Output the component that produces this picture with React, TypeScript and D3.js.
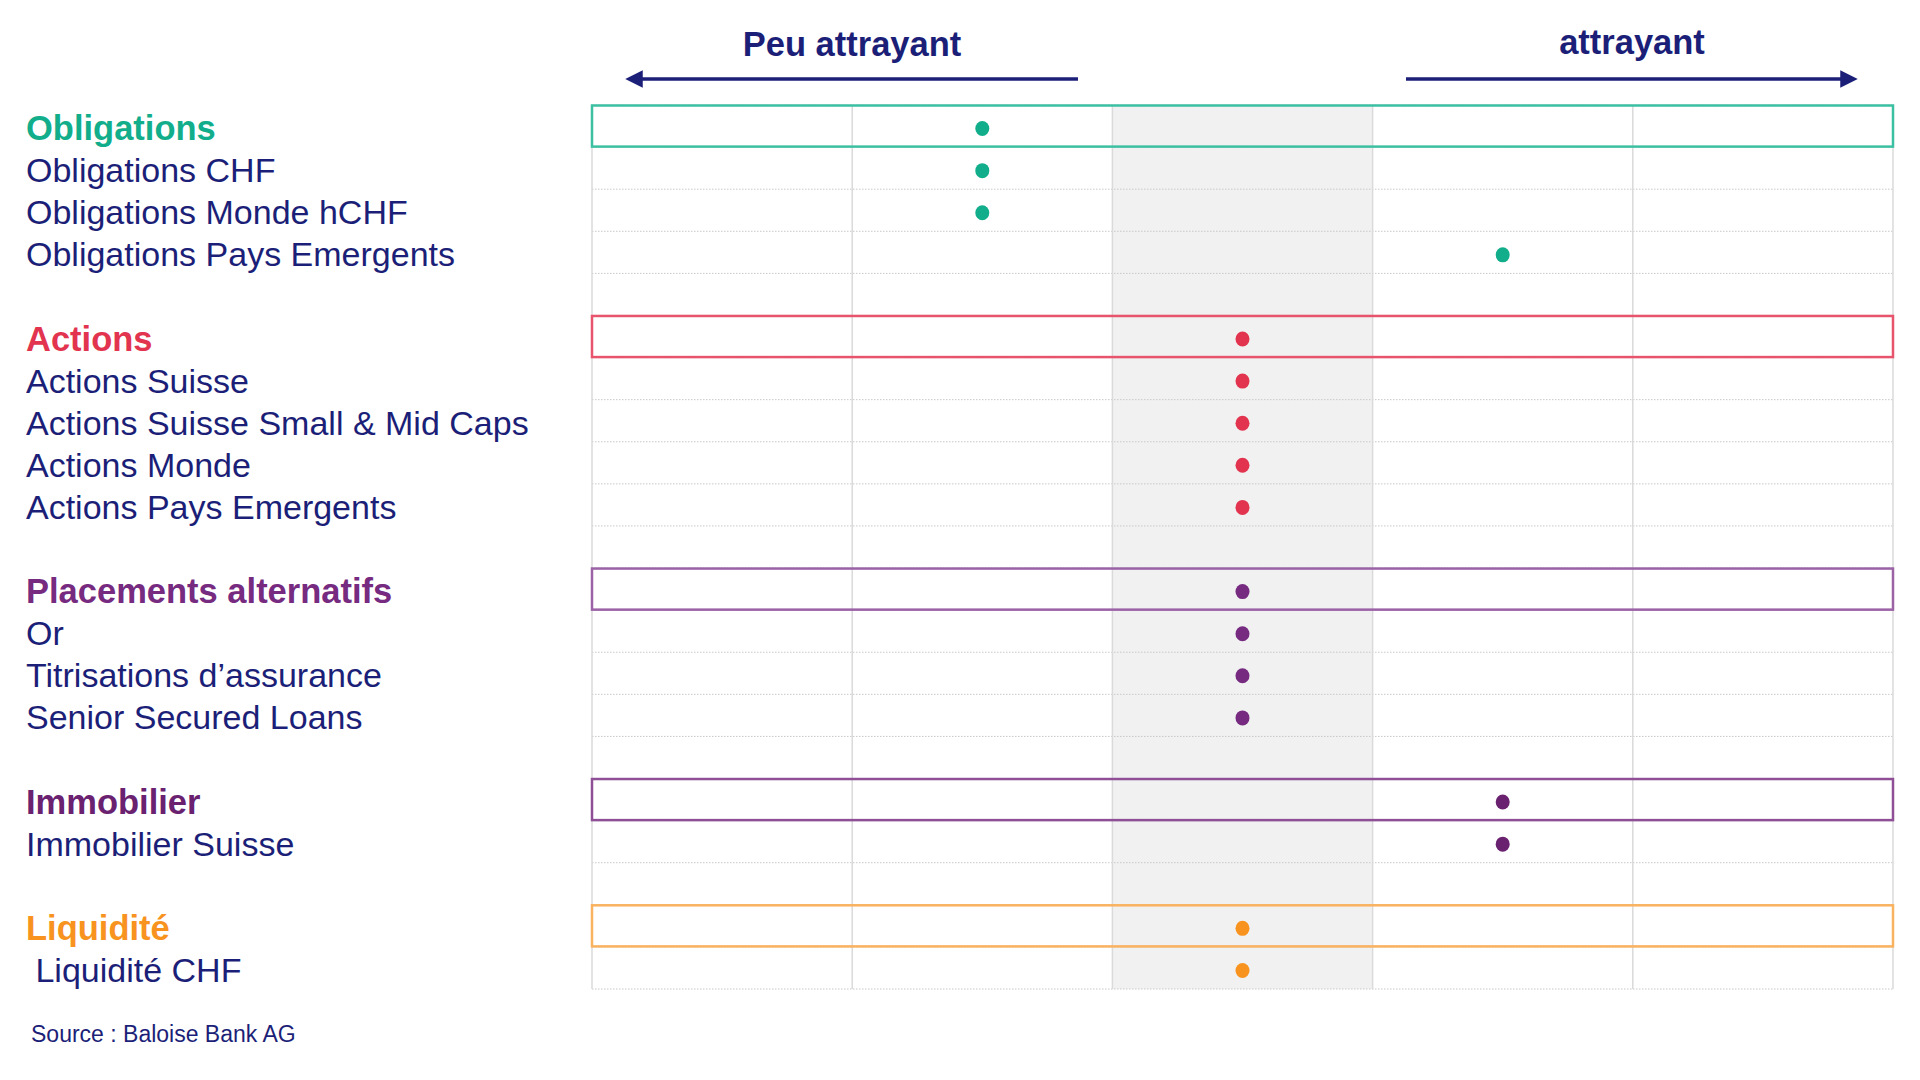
import React from "react";
import * as d3 from "d3";

const rowLabels = [
  "Obligations", "Obligations CHF", "Obligations Monde hCHF", "Obligations Pays Emergents", "",
  "Actions", "Actions Suisse", "Actions Suisse Small & Mid Caps", "Actions Monde", "Actions Pays Emergents", "",
  "Placements alternatifs", "Or", "Titrisations d\u2019assurance", "Senior Secured Loans", "",
  "Immobilier", "Immobilier Suisse", "",
  "Liquidit\u00e9", " Liquidit\u00e9 CHF",
];
// group index per row (-1 = spacer)
const rowGroups = [0, 0, 0, 0, -1, 1, 1, 1, 1, 1, -1, 2, 2, 2, 2, -1, 3, 3, -1, 4, 4];
const isHeader = [true, false, false, false, false, true, false, false, false, false, false, true, false, false, false, false, true, false, false, true, false];
// rating -2 (peu attrayant) .. +2 (attrayant); null = no dot
const ratings: (number | null)[] = [-1, -1, -1, 1, null, 0, 0, 0, 0, 0, null, 0, 0, 0, 0, null, 1, 1, null, 0, 0];
const scaleSteps = [-2, -1, 0, 1, 2];
const groupColors = ["#12ae8b", "#e2344f", "#762a80", "#6a2170", "#f7931e"];
const boxColors = ["#3cc0a2", "#e7546b", "#9b62a6", "#8e4f96", "#f9b25f"];
const topLabels = ["Peu attrayant", "attrayant"];
const sourceText = "Source : Baloise Bank AG";

const navy = "#1c1f78";

export default function App() {
  const W = 1920, H = 1080;
  const left = 592, right = 1893, top = 105, bottom = 989;
  const x = d3.scaleBand<number>().domain(scaleSteps).range([left, right]);
  const y = d3.scaleBand<number>().domain(d3.range(rowLabels.length)).range([top, bottom]);
  const bw = x.bandwidth();
  const bh = y.bandwidth();
  const font = "'Liberation Sans', Arial, sans-serif";

  return (
    <svg width={W} height={H} style={{ position: "absolute", left: 0, top: 0, background: "#fff" }} fontFamily={font}>
      <defs>
        <marker id="ah" viewBox="0 0 10 10" refX="5" refY="5" markerWidth="5" markerHeight="5" orient="auto-start-reverse" markerUnits="strokeWidth">
          <path d="M0,0 L10,5 L0,10 z" fill={navy} />
        </marker>
      </defs>
      {/* shaded neutral column */}
      <rect x={x(0)} y={top} width={bw} height={bottom - top} fill="#f1f1f1" />
      {/* horizontal dotted grid */}
      {d3.range(rowLabels.length + 1).map((i) => {
        const yy = i < rowLabels.length ? (y(i) as number) : bottom;
        return <line key={"h" + i} x1={left} x2={right} y1={yy} y2={yy} stroke="#c8c8c8" strokeWidth={1} strokeDasharray="1.5,1.5" />;
      })}
      {/* vertical grid */}
      {scaleSteps.map((s) => (
        <line key={"v" + s} x1={x(s)} x2={x(s)} y1={top} y2={bottom} stroke="#dadada" strokeWidth={1.5} />
      ))}
      <line x1={right} x2={right} y1={top} y2={bottom} stroke="#dadada" strokeWidth={1.5} />
      {/* header boxes */}
      {rowLabels.map((_, i) =>
        isHeader[i] ? (
          <rect key={"b" + i} x={left} y={(y(i) as number) + 0.5} width={right - left} height={bh - 1} fill="none" stroke={boxColors[rowGroups[i]]} strokeWidth={2.5} />
        ) : null
      )}
      {/* dots */}
      {ratings.map((r, i) =>
        r === null ? null : (
          <ellipse key={"d" + i} cx={(x(r) as number) + bw / 2} cy={(y(i) as number) + bh / 2 + 2.5} rx={7} ry={7.5} fill={groupColors[rowGroups[i]]} />
        )
      )}
      {/* row labels */}
      {rowLabels.map((lab, i) =>
        lab ? (
          <text key={"t" + i} x={26} y={(y(i) as number) + bh / 2 + 14} fontSize={isHeader[i] ? 34.5 : 34} fontWeight={isHeader[i] ? "bold" : "normal"} fill={isHeader[i] ? groupColors[rowGroups[i]] : navy} xmlSpace="preserve" style={{ whiteSpace: "pre" }}>
            {lab}
          </text>
        ) : null
      )}
      {/* top labels & arrows */}
      <text x={852} y={56} textAnchor="middle" fontSize={34.5} fontWeight="bold" fill={navy}>{topLabels[0]}</text>
      <text x={1632} y={54} textAnchor="middle" fontSize={34.5} fontWeight="bold" fill={navy}>{topLabels[1]}</text>
      <line x1={1078} x2={634} y1={79} y2={79} stroke={navy} strokeWidth={3.5} markerEnd="url(#ah)" />
      <line x1={1406} x2={1849} y1={79} y2={79} stroke={navy} strokeWidth={3.5} markerEnd="url(#ah)" />
      <text x={31} y={1042} fontSize={23} fill={navy}>{sourceText}</text>
    </svg>
  );
}
